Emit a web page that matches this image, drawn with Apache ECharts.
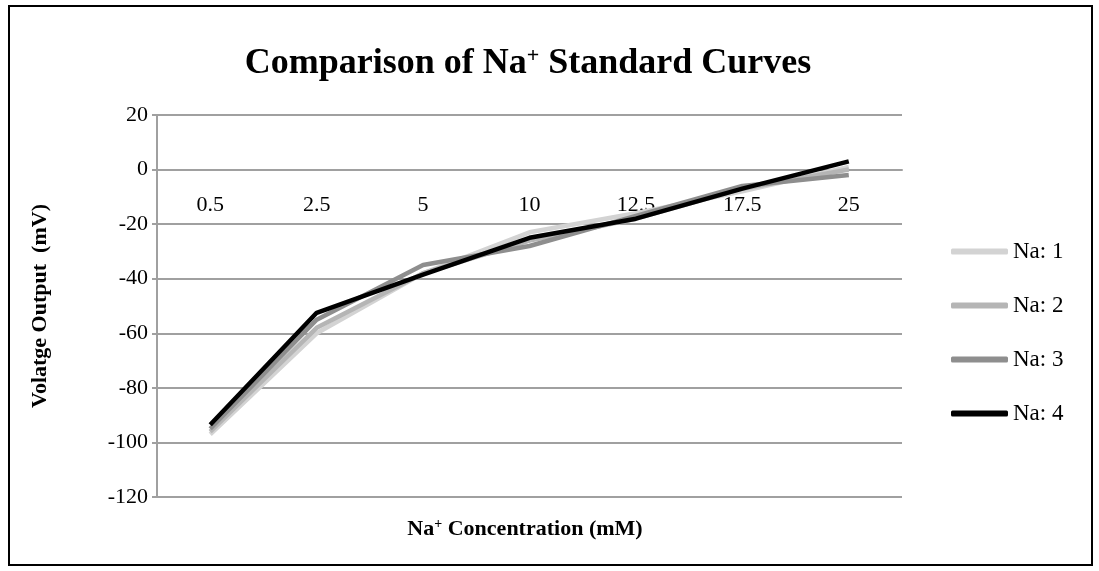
<!DOCTYPE html>
<html>
<head>
<meta charset="utf-8">
<script src="https://cdn.jsdelivr.net/npm/echarts@6/dist/echarts.min.js"></script>
<style>
  body{margin:0;background:#fff;}
  #frame{position:absolute;left:8px;top:5px;width:1081px;height:557px;border:2px solid #000;}
  #main{position:absolute;left:0;top:0;width:1099px;height:571px;}
</style>
</head>
<body>
<div id="frame"></div>
<div id="main"></div>
<script>
  // Na+ concentration (mM)
  var categories = ['0.5','2.5','5','10','12.5','17.5','25'];
  var na1 = [-97, -60, -38, -23, -16, -8, 1];
  var na2 = [-96, -58, -38, -26, -18, -7, 0];
  var na3 = [-95, -55, -35, -28, -17, -6, -2];
  var na4 = [-93.5, -52.5, -38.5, -25, -18, -7, 3];
  var names = ['Na: 1','Na: 2','Na: 3','Na: 4'];
  var colors = ['#d3d3d3','#b5b5b5','#8e8e8e','#000000'];
  var yMin = -120, yMax = 20;

  var font = 'Liberation Serif';
  var chart = echarts.init(document.getElementById('main'));

  var gridTop = 115, gridBottom = 74;
  var plotH = 571 - gridTop - gridBottom;
  // category axis crosses the value axis at 0
  var zeroOffset = plotH * (0 - yMin) / (yMax - yMin);

  function line(name, data, color){
    return {
      name: name,
      type: 'line',
      data: data,
      symbol: 'none',
      lineStyle: {color: color, width: 4.5},
      itemStyle: {color: color},
      animation: false
    };
  }

  chart.setOption({
    backgroundColor: 'transparent',
    title: [{
      text: 'Comparison of Na{sup|+} Standard Curves',
      left: 523, top: 40, textAlign: 'center',
      textStyle: {
        fontFamily: font, fontSize: 36, fontWeight: 'bold', color: '#000',
        rich: {sup: {fontFamily: font, fontSize: 22, fontWeight: 'bold', verticalAlign: 'top', padding: [0,0,16,0]}}
      }
    }, {
      text: 'Na{sup|+} Concentration (mM)',
      left: 520, top: 512, textAlign: 'center',
      textStyle: {
        fontFamily: font, fontSize: 22, fontWeight: 'bold', color: '#000',
        rich: {sup: {fontFamily: font, fontSize: 14, fontWeight: 'bold', verticalAlign: 'top', padding: [0,0,10,0]}}
      }
    }],
    grid: {left: 157, right: 197, top: gridTop, bottom: gridBottom},
    legend: {
      orient: 'vertical', left: 946, top: 235,
      icon: 'roundRect',
      itemWidth: 57, itemHeight: 6, itemGap: 31,
      textStyle: {fontFamily: font, fontSize: 23, color: '#000', padding: [0,0,0,0]},
      data: names
    },
    xAxis: {
      type: 'category',
      data: categories,
      offset: -zeroOffset,
      axisLine: {onZero: false, lineStyle: {color: '#a0a0a0', width: 2}},
      axisTick: {length: 5, lineStyle: {color: '#a0a0a0', width: 2}},
      axisLabel: {fontFamily: font, fontSize: 22, color: '#000', margin: 25},
      splitLine: {show: false}
    },
    yAxis: {
      type: 'value',
      min: yMin, max: yMax, interval: 20,
      name: 'Volatge Output  (mV)',
      nameLocation: 'middle',
      nameGap: 106,
      nameTextStyle: {fontFamily: font, fontSize: 22, fontWeight: 'bold', color: '#000'},
      axisLine: {show: true, lineStyle: {color: '#a0a0a0', width: 2}},
      axisTick: {show: true, length: 5, lineStyle: {color: '#a0a0a0', width: 2}},
      axisLabel: {fontFamily: font, fontSize: 22, color: '#000', margin: 9},
      splitLine: {lineStyle: {color: '#a0a0a0', width: 2}}
    },
    series: [
      line(names[0], na1, colors[0]),
      line(names[1], na2, colors[1]),
      line(names[2], na3, colors[2]),
      line(names[3], na4, colors[3])
    ]
  });
</script>
</body>
</html>
